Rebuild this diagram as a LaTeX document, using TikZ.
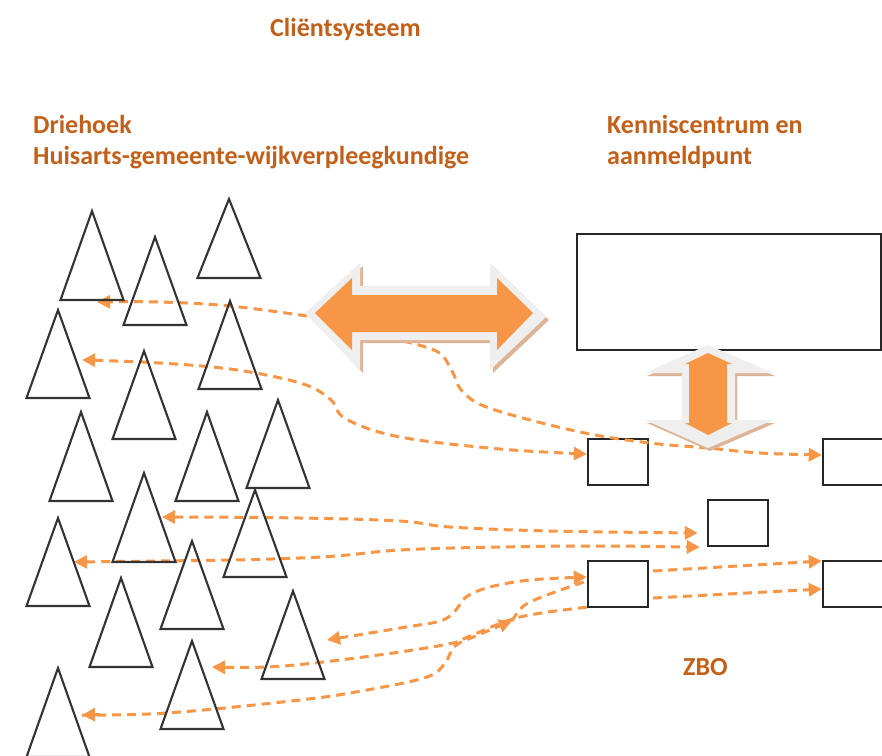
\documentclass[tikz,border=0pt]{standalone}
\usepackage{fontspec}
\setmainfont{Carlito}
\usetikzlibrary{arrows.meta,calc}
\definecolor{orln}{HTML}{F79646}
\definecolor{ortx}{HTML}{C2601A}
\definecolor{glowgrey}{HTML}{EFEFEF}
\definecolor{shadowtan}{HTML}{DDB596}
\definecolor{edgegrey}{HTML}{333333}
\begin{document}
\begin{tikzpicture}[x=1pt,y=-1pt,
  lbl/.style={font=\bfseries\fontsize{26}{30}\selectfont, text=ortx, inner sep=0pt, anchor=base west},
  tri/.style={draw=edgegrey, line width=2.1pt, line join=miter},
  box/.style={draw=black!85, line width=2.4pt, minimum width=60pt, minimum height=46pt, inner sep=0pt},
  conn/.style={draw=orln, line width=3pt, dash pattern=on 9pt off 6pt},
  >={Triangle[length=13pt,width=13pt]}]
\useasboundingbox (0,0) rectangle (882,755);
\clip (0,0) rectangle (882,755);
\fill[white] (0,0) rectangle (882,755);

% texts
\node[lbl] (tclient) at (270,36) {Cliëntsysteem};
\node[lbl] (tdrie) at (33,133) {Driehoek};
\node[lbl] (thuis) at (33,164) {Huisarts-gemeente-wijkverpleegkundige};
\node[lbl] (tkc1) at (607,133) {Kenniscentrum en};
\node[lbl] (tkc2) at (607,164) {aanmeldpunt};
\node[lbl] (tzbo) at (683,675) {ZBO};

% boxes
\node[box, minimum width=304pt, minimum height=116pt] (kc) at (729,292) {};
\node[box] (b1) at (618,462) {};
\node[box] (b2) at (853,462) {};
\node[box] (b3) at (738,523) {};
\node[box] (b4) at (618,584) {};
\node[box] (b5) at (853,584) {};

% connector end points
\coordinate (hlt) at (307,316);
\coordinate (hbot) at (403,341);
\coordinate (t1p) at (97,302);
\coordinate (t4p) at (82,360);
\coordinate (t10p) at (162,517);
\coordinate (t11p) at (74,562);
\coordinate (t15p) at (327,640);
\coordinate (t13p) at (212,667);
\coordinate (t16p) at (82,715);
\coordinate (mid8) at (512,621);

% connectors
\draw[conn,->] plot[smooth, tension=0.6] coordinates {(hlt) (230,306) (160,302) (t1p)};
\draw[conn,->] plot[smooth, tension=0.6] coordinates {(hbot) (438,352) (452,371) (463,392) (492,409) (580,432) (650,443) (708,448) (760,453) ($(b2.west)+(0,-7)$)};
\draw[conn,<->] plot[smooth, tension=0.6] coordinates {(t4p) (143,362) (230,369) (300,383) (330,399) (346,419) (400,437) (500,449) ($(b1.west)+(0,-8)$)};
\draw[conn,<->] plot[smooth, tension=0.6] coordinates {(t10p) (300,518) (400,521) (450,527) (550,531) ($(b3.west)+(-9,10)$)};
\draw[conn,<->] plot[smooth, tension=0.6] coordinates {(t11p) (300,558) (400,550) (500,547) (600,546) ($(b3.south west)+(-7,0)$)};
\draw[conn,<->] plot[smooth, tension=0.6] coordinates {(t15p) (400,628) (440,621) (455,611) (466,597) (490,587) (530,580) ($(b4.west)+(0,-7)$)};
\draw[conn,->] plot[smooth, tension=0.6] coordinates {($(b4.south west)+(0,-1)$) (520,617) (470,636) (453,643) (400,652) (323,662) (267,667) (t13p)};
\draw[conn,->] plot[smooth, tension=0.6] coordinates {(t16p) (167,713) (300,700) (367,690) (427,677) (445,663) (455,646) (478,635) (mid8)};
\draw[conn] plot[smooth, tension=0.6] coordinates {(mid8) (518,612) (528,603) (555,592) ($(b4.west)+(-3,-2)$)};
\draw[conn,<-] (t16p) -- (100,714.5);
\draw[conn,->] ($(b4.east)+(4,-13)$) -- ($(b5.west)+(0,-23)$);
\draw[conn,->] ($(b4.east)+(4,14)$) -- ($(b5.west)+(0,5)$);

% triangles
\foreach \ax/\ay/\by in {92/211/300, 155/237/325, 229/199/278, 58/310/398, 144/351/439,
  230/301/389, 81/412/501, 207/412/501, 278/400/488, 144/473/562, 58/518/606, 255/490/577,
  192/541/629, 121/578/667, 293/591/679, 192/641/729, 58/668/757}
  \draw[tri] (\ax,\ay) -- (\ax-31.5,\by) -- (\ax+31.5,\by) -- cycle;

% horizontal double arrow
\fill[shadowtan] (309,316) -- (363,266) -- (363,289) -- (493,289) -- (493,266) -- (549,320) -- (493,373) -- (493,343) -- (363,343) -- (363,373) -- cycle;
\fill[glowgrey] (305,313) -- (360,263) -- (360,286) -- (490,286) -- (490,263) -- (546,317) -- (490,370) -- (490,340) -- (360,340) -- (360,370) -- cycle;
\fill[orln] (315,313) -- (352,278) -- (352,295) -- (497,295) -- (497,278) -- (533,313) -- (497,350) -- (497,332) -- (352,332) -- (352,350) -- cycle;

% vertical double arrow
\fill[shadowtan] (710,348) -- (775,376) -- (737,376) -- (737,423) -- (775,423) -- (710,451) -- (647,423) -- (684,423) -- (684,376) -- (647,376) -- cycle;
\fill[glowgrey] (708,345) -- (773,373) -- (735,373) -- (735,420) -- (773,420) -- (708,448) -- (645,420) -- (682,420) -- (682,373) -- (645,373) -- cycle;
\fill[orln] (708,353) -- (732,364) -- (727,364) -- (727,423) -- (732,423) -- (708,435) -- (685,423) -- (689,423) -- (689,364) -- (685,364) -- cycle;
\end{tikzpicture}
\end{document}
